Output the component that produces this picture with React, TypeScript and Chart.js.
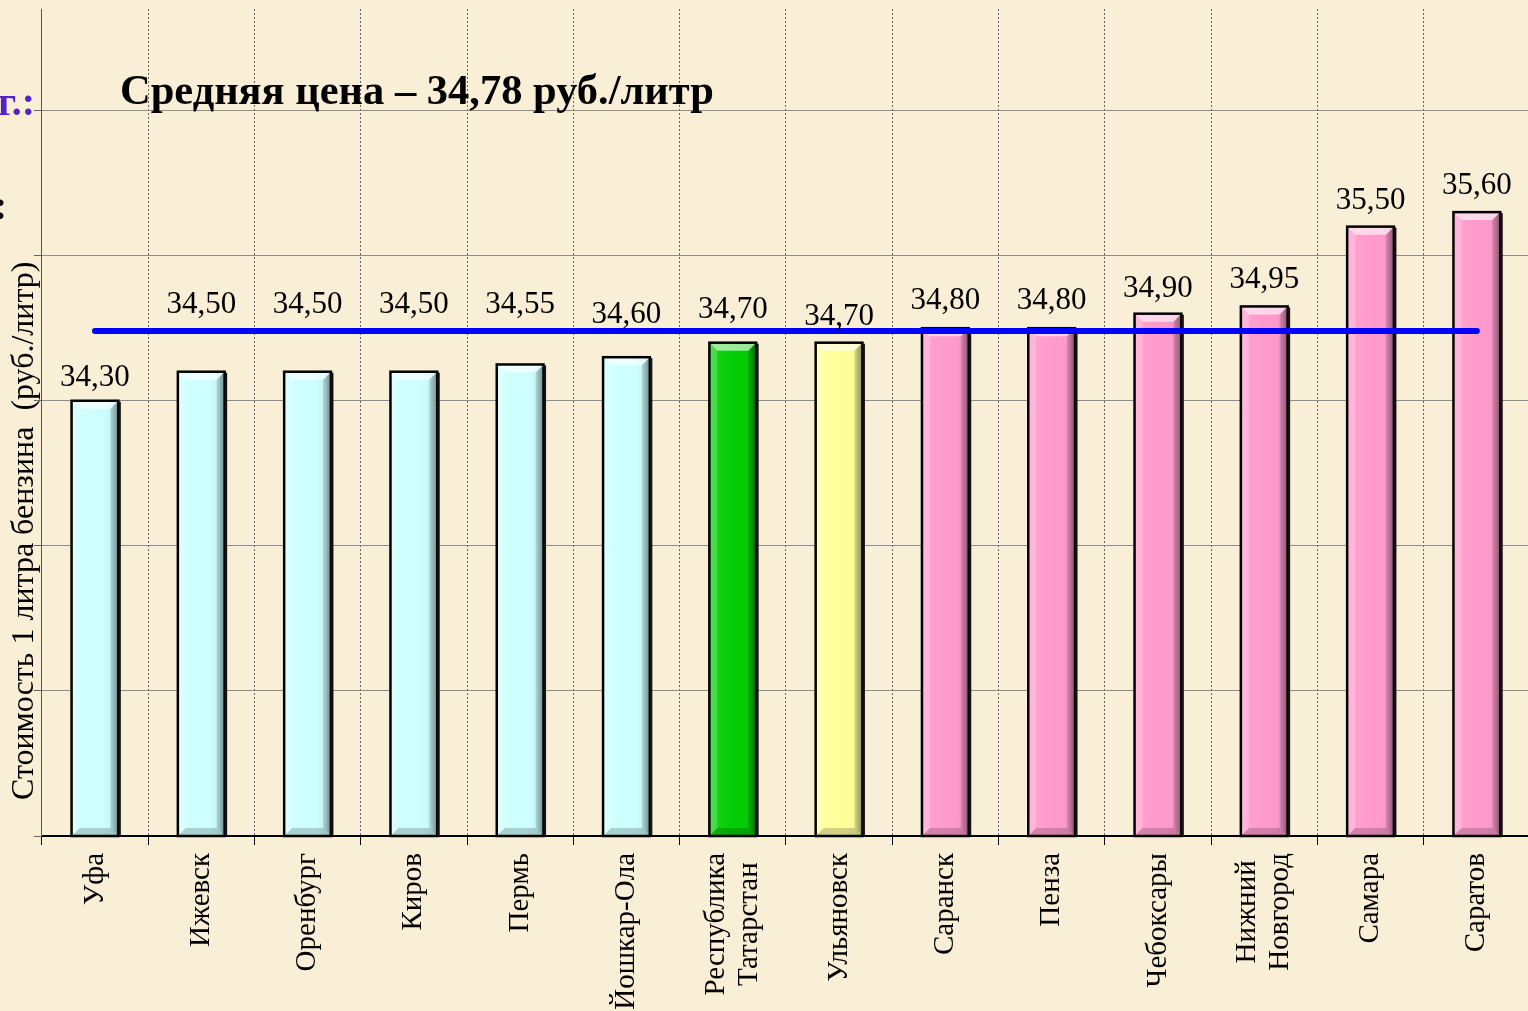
import React, { useEffect, useRef } from "react";
import { Chart, registerables } from "chart.js";

Chart.register(...registerables);

// ---- data ----
const categories: string[][] = [
  ["Уфа"],
  ["Ижевск"],
  ["Оренбург"],
  ["Киров"],
  ["Пермь"],
  ["Йошкар-Ола"],
  ["Республика", "Татарстан"],
  ["Ульяновск"],
  ["Саранск"],
  ["Пенза"],
  ["Чебоксары"],
  ["Нижний", "Новгород"],
  ["Самара"],
  ["Саратов"],
];
const prices: number[] = [34.3, 34.5, 34.5, 34.5, 34.55, 34.6, 34.7, 34.7, 34.8, 34.8, 34.9, 34.95, 35.5, 35.6];
const averagePrice = 34.78;
const yTickValues: number[] = [31.3, 32.3, 33.3, 34.3, 35.3, 36.3];
const yMin = 31.3;
const yMax = 37;
const titleText = "Средняя цена – 34,78 руб./литр";
const yAxisTitle = "Стоимость 1 литра бензина  (руб./литр)";

// ---- styles ----
const CYAN = "#CCFFFF";
const GREEN = "#00CC00";
const YELLOW = "#FFFF99";
const PINK = "#FF99CC";
const barColors: string[] = [CYAN, CYAN, CYAN, CYAN, CYAN, CYAN, GREEN, YELLOW, PINK, PINK, PINK, PINK, PINK, PINK];
// how far (px) above each bar top the value label baseline sits
const labelLift: number[] = [15, 59, 59, 59, 51, 34, 25, 18, 19, 19, 17, 18, 18, 18];
const SERIF = '"Liberation Serif", "Times New Roman", serif';
const BG = "#F9EED6";

const fmt = (v: number) => v.toFixed(2).replace(".", ",");

const decorPlugin = {
  id: "decor",
  beforeDraw(chart: any) {
    const { ctx, width, height } = chart;
    ctx.save();
    ctx.fillStyle = BG;
    ctx.fillRect(0, 0, width, height);
    ctx.restore();
  },
  afterDatasetDraw(chart: any, args: any) {
    if (args.index !== 0) return;
    const { ctx, chartArea } = chart;
    const meta = chart.getDatasetMeta(0);
    meta.data.forEach((el: any) => {
      const { x, y, base, width } = el.getProps(["x", "y", "base", "width"], true);
      const L = x - width / 2;
      const R = x + width / 2;
      const T = Math.max(y, chartArea.top);
      const B = Math.min(base, chartArea.bottom);
      const b = 8;
      ctx.save();
      // face gradient (slight shading to the right)
      const g = ctx.createLinearGradient(L, 0, R, 0);
      g.addColorStop(0, "rgba(255,255,255,0.10)");
      g.addColorStop(0.6, "rgba(255,255,255,0.0)");
      g.addColorStop(1, "rgba(0,0,0,0.10)");
      ctx.fillStyle = g;
      ctx.fillRect(L, T, width, B - T);
      // left bevel
      ctx.fillStyle = "rgba(255,255,255,0.22)";
      ctx.beginPath();
      ctx.moveTo(L, T); ctx.lineTo(L + b, T + b); ctx.lineTo(L + b, B - b); ctx.lineTo(L, B); ctx.closePath();
      ctx.fill();
      // right bevel
      const gr = ctx.createLinearGradient(R - b, 0, R, 0);
      gr.addColorStop(0, "rgba(0,0,0,0.12)");
      gr.addColorStop(1, "rgba(0,0,0,0.38)");
      ctx.fillStyle = gr;
      ctx.beginPath();
      ctx.moveTo(R, T); ctx.lineTo(R - b, T + b); ctx.lineTo(R - b, B - b); ctx.lineTo(R, B); ctx.closePath();
      ctx.fill();
      // top bevel
      ctx.fillStyle = "rgba(255,255,255,0.6)";
      ctx.beginPath();
      ctx.moveTo(L, T); ctx.lineTo(R, T); ctx.lineTo(R - b, T + b); ctx.lineTo(L + b, T + b); ctx.closePath();
      ctx.fill();
      // bottom bevel
      ctx.fillStyle = "rgba(0,0,0,0.18)";
      ctx.beginPath();
      ctx.moveTo(L, B); ctx.lineTo(R, B); ctx.lineTo(R - b, B - b); ctx.lineTo(L + b, B - b); ctx.closePath();
      ctx.fill();
      // border + shadow
      ctx.strokeStyle = "#000";
      ctx.lineWidth = 2.5;
      ctx.strokeRect(L, T, width, B - T);
      ctx.fillStyle = "#111";
      ctx.fillRect(R, T + 1, 2.5, B - T - 1);
      ctx.restore();
    });
  },
  afterDraw(chart: any) {
    const { ctx, chartArea } = chart;
    const xs = chart.scales.x;
    ctx.save();
    // value labels
    const meta = chart.getDatasetMeta(0);
    ctx.font = `31px ${SERIF}`;
    ctx.fillStyle = "#000";
    ctx.textAlign = "center";
    ctx.textBaseline = "alphabetic";
    meta.data.forEach((el: any, i: number) => {
      const { x, y } = el.getProps(["x", "y"], true);
      ctx.fillText(fmt(prices[i]), x, y - labelLift[i]);
    });
    // category labels (rotated)
    ctx.font = `29px ${SERIF}`;
    const lineH = 33;
    categories.forEach((lines, i) => {
      const px = xs.getPixelForTick(i);
      const maxW = Math.max(...lines.map((l) => ctx.measureText(l).width));
      const cy = xs.top + 17 + maxW / 2;
      lines.forEach((line, j) => {
        const lx = px + (j - (lines.length - 1) / 2) * lineH;
        ctx.save();
        ctx.translate(lx, cy);
        ctx.rotate(-Math.PI / 2);
        ctx.textAlign = "center";
        ctx.textBaseline = "middle";
        ctx.fillText(line, 0, 0);
        ctx.restore();
      });
    });
    // y axis title
    ctx.font = `32px ${SERIF}`;
    const tw = ctx.measureText(yAxisTitle).width;
    ctx.save();
    ctx.translate(chartArea.left - 17, chartArea.bottom - 36 - tw / 2);
    ctx.rotate(-Math.PI / 2);
    ctx.textAlign = "center";
    ctx.textBaseline = "middle";
    ctx.fillText(yAxisTitle, 0, 0);
    ctx.restore();
    // main title
    ctx.font = `bold 42.5px ${SERIF}`;
    ctx.textAlign = "left";
    ctx.textBaseline = "alphabetic";
    ctx.fillStyle = "#000";
    ctx.fillText(titleText, 120, 104);
    // clipped fragments of the slide at the left edge
    ctx.font = `bold 40px ${SERIF}`;
    ctx.textAlign = "right";
    ctx.fillStyle = "#5522CC";
    ctx.fillText("г.:", 35, 115);
    ctx.fillStyle = "#000";
    ctx.fillText(":", 7, 219);
    ctx.restore();
  },
};

export default function App() {
  const canvasRef = useRef<HTMLCanvasElement | null>(null);

  useEffect(() => {
    const canvas = canvasRef.current;
    if (!canvas) return;
    const chart = new Chart(canvas, {
      type: "bar",
      data: {
        labels: categories.map((c) => c.join(" ")),
        datasets: [
          {
            type: "bar",
            label: "Цена",
            data: prices,
            backgroundColor: barColors,
            borderWidth: 0,
            barPercentage: 0.44,
            categoryPercentage: 1.0,
            order: 1,
          } as any,
          {
            type: "line",
            label: "Средняя цена",
            data: prices.map(() => averagePrice),
            borderColor: "#0000FF",
            borderWidth: 6,
            borderCapStyle: "round",
            pointRadius: 0,
            fill: false,
            order: 0,
          } as any,
        ],
      },
      options: {
        responsive: false,
        devicePixelRatio: 1,
        animation: false,
        layout: { padding: { left: 33.8, right: 2, top: 9, bottom: 0 } },
        plugins: { legend: { display: false }, tooltip: { enabled: false }, title: { display: false } },
        scales: {
          x: {
            type: "category",
            offset: true,
            grid: {
              offset: true,
              color: "#666666",
              lineWidth: 1,
              drawTicks: true,
              tickLength: 9,
              tickColor: "#000",
              tickWidth: 1,
              tickBorderDash: [],
            },
            border: { display: true, color: "#000", width: 2, dash: [2, 2] },
            ticks: { display: false },
            afterFit: (s: any) => {
              s.height = 175;
            },
          },
          y: {
            type: "linear",
            min: yMin,
            max: yMax,
            afterBuildTicks: (s: any) => {
              s.ticks = yTickValues.map((v) => ({ value: v }));
            },
            grid: { color: "#8C8C8C", lineWidth: 1, tickLength: 8, tickColor: "#666" },
            border: { display: true, color: "#555", width: 1 },
            ticks: { display: false },
            afterFit: (s: any) => {
              s.width = 8;
            },
          },
        },
      },
      plugins: [decorPlugin],
    });
    return () => chart.destroy();
  }, []);

  return (
    <div
      style={{
        position: "fixed",
        left: 0,
        top: 0,
        width: 1528,
        height: 1011,
        overflow: "hidden",
        background: BG,
      }}
    >
      <canvas ref={canvasRef} width={1532} height={1011} style={{ display: "block", width: 1532, height: 1011 }} />
    </div>
  );
}
